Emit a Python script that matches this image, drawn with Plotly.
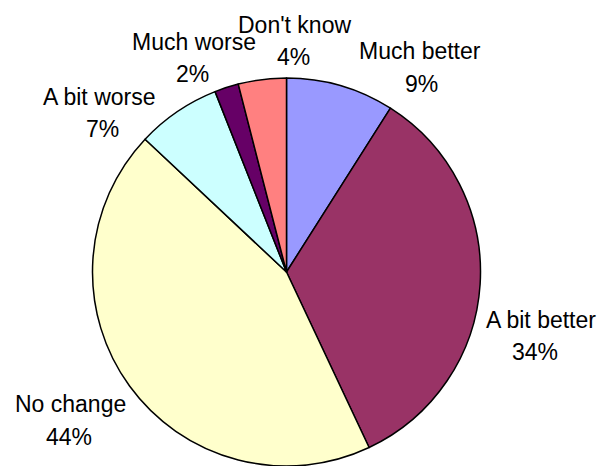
import plotly.graph_objects as go

W, H = 605, 466

categories = ["Much better", "A bit better", "No change", "A bit worse", "Much worse", "Don't know"]
values = [9, 34, 44, 7, 2, 4]
colors = ["#9999FF", "#993366", "#FFFFCC", "#CCFFFF", "#660066", "#FF8080"]

# label placement (pixel centers; name baseline, pct baseline)
name_x = [420, 541, 70, 99.5, 194, 294.7]
name_base = [59.3, 328, 412, 105, 50, 33.3]
pct_x = [421, 535, 69, 102.7, 192.7, 293.7]
pct_base = [91.7, 360, 445, 136.7, 81.7, 65]

FONT = dict(family="Liberation Sans, Arial, sans-serif", size=23, color="#000000")

cx, cy, r = 286.5, 272, 194

fig = go.Figure(go.Pie(
    labels=categories,
    values=values,
    sort=False,
    direction="clockwise",
    rotation=0,
    marker=dict(colors=colors, line=dict(color="#000000", width=1.5)),
    textinfo="none",
    showlegend=False,
    domain=dict(x=[(cx - r) / W, (cx + r) / W], y=[(H - cy - r) / H, (H - cy + r) / H]),
))

off = 0.3465 * FONT["size"]
annotations = []
for name, v, nx, nb, px, pb in zip(categories, values, name_x, name_base, pct_x, pct_base):
    annotations.append(dict(x=nx / W, y=1 - (nb - off) / H, xref="paper", yref="paper",
                            text=name, showarrow=False, xanchor="center", yanchor="middle",
                            font=FONT))
    annotations.append(dict(x=px / W, y=1 - (pb - off) / H, xref="paper", yref="paper",
                            text=f"{v}%", showarrow=False, xanchor="center", yanchor="middle",
                            font=FONT))

fig.update_layout(
    width=W, height=H,
    margin=dict(l=0, r=0, t=0, b=0),
    paper_bgcolor="white", plot_bgcolor="white",
    annotations=annotations,
)

fig.write_html("out.html")
